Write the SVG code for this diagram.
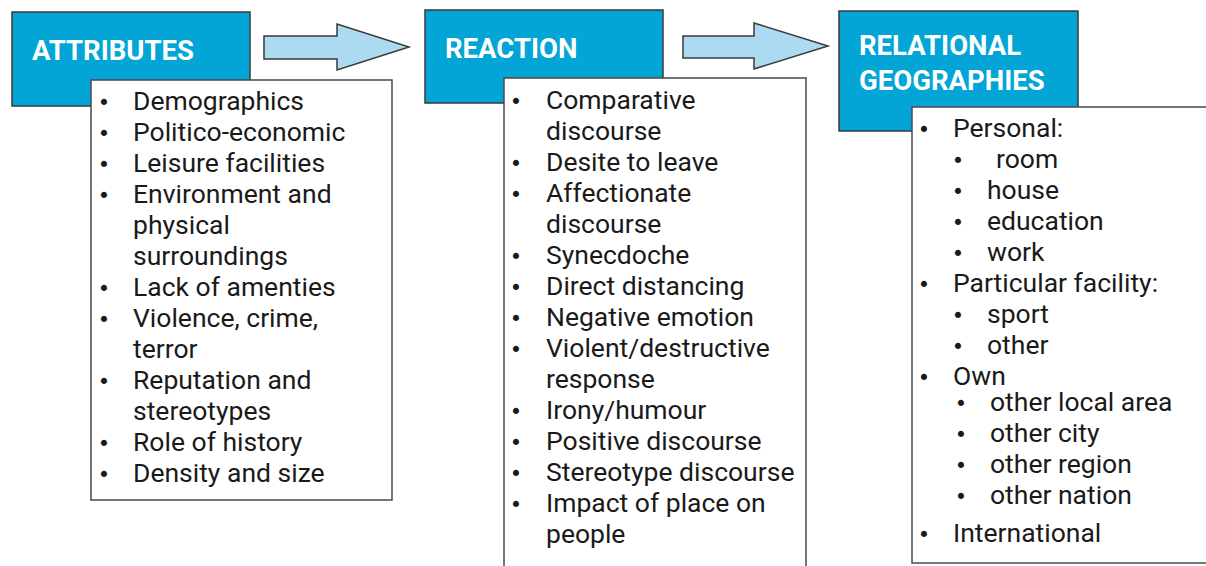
<svg xmlns="http://www.w3.org/2000/svg" width="1206" height="566" viewBox="0 0 1206 566">
<style>
.hdr{fill:#02a5d5;stroke:#3a3a3a;stroke-width:1.5}
.lst{fill:#ffffff;stroke:#4a4a4a;stroke-width:1.5}
.arr{fill:#acdaf0;stroke:#3a3a3a;stroke-width:1.5}
.ht{font-family:Roboto,"Liberation Sans",sans-serif;font-weight:bold;font-size:27.5px;fill:#ffffff}
.t{font-family:Roboto,"Liberation Sans",sans-serif;font-size:26.5px;fill:#1a1a1a}
.b{font-family:"DejaVu Sans",sans-serif;font-size:21px;fill:#1a1a1a;text-anchor:middle}
</style>
<rect width="1206" height="566" fill="#ffffff"/>
<g id="connectors">
<polygon class="arr" points="264,36 337,36 337,24 409,47 337,70 337,59 264,59"/>
<polygon class="arr" points="683,36 754,36 754,23 828,46 754,69 754,58 683,58"/>
</g>
<g id="attributes">
<rect class="hdr" x="12" y="12" width="238" height="94"/>
<text class="ht" x="32" y="60">ATTRIBUTES</text>
<rect class="lst" x="91" y="80" width="301" height="420"/>
<g class="b">
<text x="104" y="110">•</text><text x="104" y="141">•</text><text x="104" y="172">•</text><text x="104" y="203">•</text><text x="104" y="296">•</text><text x="104" y="327">•</text><text x="104" y="389">•</text><text x="104" y="451">•</text><text x="104" y="482">•</text>
</g>
<g class="t">
<text x="133" y="110">Demographics</text>
<text x="133" y="141">Politico-economic</text>
<text x="133" y="172">Leisure facilities</text>
<text x="133" y="203">Environment and</text>
<text x="133" y="234">physical</text>
<text x="133" y="265">surroundings</text>
<text x="133" y="296">Lack of amenties</text>
<text x="133" y="327">Violence, crime,</text>
<text x="133" y="358">terror</text>
<text x="133" y="389">Reputation and</text>
<text x="133" y="420">stereotypes</text>
<text x="133" y="451">Role of history</text>
<text x="133" y="482">Density and size</text>
</g>
</g>
<g id="reaction">
<rect class="hdr" x="425" y="10" width="238" height="93"/>
<text class="ht" x="445" y="58">REACTION</text>
<rect class="lst" x="504" y="78" width="302" height="492"/>
<g class="b">
<text x="516" y="109">•</text><text x="516" y="171">•</text><text x="516" y="202">•</text><text x="516" y="264">•</text><text x="516" y="295">•</text><text x="516" y="326">•</text><text x="516" y="357">•</text><text x="516" y="419">•</text><text x="516" y="450">•</text><text x="516" y="481">•</text><text x="516" y="512">•</text>
</g>
<g class="t">
<text x="546" y="109">Comparative</text>
<text x="546" y="140">discourse</text>
<text x="546" y="171">Desite to leave</text>
<text x="546" y="202">Affectionate</text>
<text x="546" y="233">discourse</text>
<text x="546" y="264">Synecdoche</text>
<text x="546" y="295">Direct distancing</text>
<text x="546" y="326">Negative emotion</text>
<text x="546" y="357">Violent/destructive</text>
<text x="546" y="388">response</text>
<text x="546" y="419">Irony/humour</text>
<text x="546" y="450">Positive discourse</text>
<text x="546" y="481">Stereotype discourse</text>
<text x="546" y="512">Impact of place on</text>
<text x="546" y="543">people</text>
</g>
</g>
<g id="relational-geographies">
<rect class="hdr" x="839" y="11" width="239" height="120"/>
<text class="ht" x="859" y="55">RELATIONAL</text>
<text class="ht" x="859" y="90">GEOGRAPHIES</text>
<rect class="lst" x="912" y="107" width="300" height="456"/>
<g class="b">
<text x="924" y="137">•</text><text x="958" y="168">•</text><text x="958" y="199">•</text><text x="958" y="230">•</text><text x="958" y="261">•</text><text x="924" y="292">•</text><text x="958" y="323">•</text><text x="958" y="354">•</text><text x="924" y="385">•</text><text x="961" y="411">•</text><text x="961" y="442">•</text><text x="961" y="473">•</text><text x="961" y="504">•</text><text x="924" y="542">•</text>
</g>
<g class="t">
<text x="953" y="137">Personal:</text>
<text x="996" y="168">room</text>
<text x="987" y="199">house</text>
<text x="987" y="230">education</text>
<text x="987" y="261">work</text>
<text x="953" y="292">Particular facility:</text>
<text x="987" y="323">sport</text>
<text x="987" y="354">other</text>
<text x="953" y="385">Own</text>
<text x="990" y="411">other local area</text>
<text x="990" y="442">other city</text>
<text x="990" y="473">other region</text>
<text x="990" y="504">other nation</text>
<text x="953" y="542">International</text>
</g>
</g>
</svg>
